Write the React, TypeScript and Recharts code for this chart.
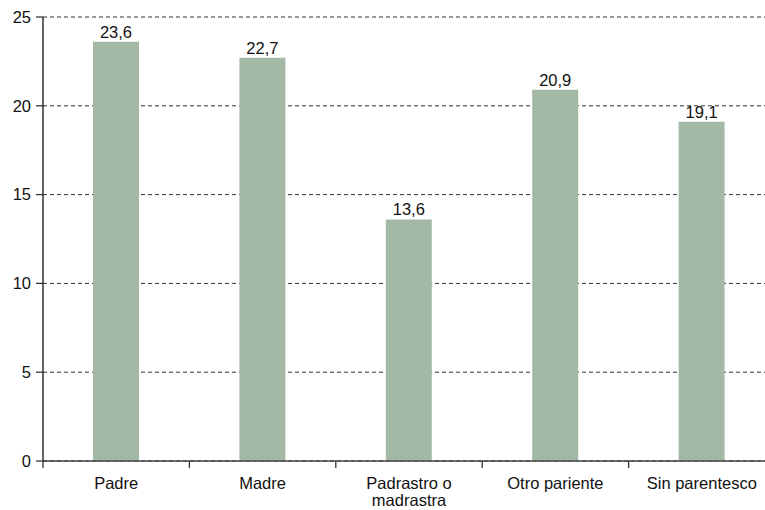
import { BarChart, Bar, XAxis, YAxis, CartesianGrid, LabelList } from "recharts";

const categories = ["Padre", "Madre", "Padrastro o madrastra", "Otro pariente", "Sin parentesco"];
const values = [23.6, 22.7, 13.6, 20.9, 19.1];
const yTicks = [0, 5, 10, 15, 20, 25];

// multi-line labels for the longer category names
const tickLines: Record<string, string[]> = {
  "Padrastro o madrastra": ["Padrastro o", "madrastra"],
};

const data = categories.map((name, i) => ({ name, value: values[i] }));

const CHART_W = 775;
const CHART_H = 510;
const Y_AXIS_W = 43;
const FONT = "Liberation Sans, Arial, sans-serif";
const FS = 16.5;

const bandWidth = (CHART_W - Y_AXIS_W) / categories.length;

function CategoryTick(props: any) {
  const { x, y, payload } = props;
  const lines = tickLines[payload.value] ?? [payload.value];
  const left = x - bandWidth / 2;
  return (
    <g>
      <line x1={left} y1={y - 8} x2={left} y2={y - 1} stroke="#333" strokeWidth={1.3} />
      <text x={x} y={y + 20} textAnchor="middle" fontSize={FS} fill="#111" fontFamily={FONT}>
        {lines.map((l: string, i: number) => (
          <tspan key={i} x={x} dy={i === 0 ? 0 : 17}>
            {l}
          </tspan>
        ))}
      </text>
    </g>
  );
}

const fmt = (v: any) => String(v).replace(".", ",");

export default function App() {
  return (
    <div
      style={{
        position: "absolute",
        left: 0,
        top: 0,
        width: 765,
        height: 510,
        overflow: "hidden",
        background: "#fff",
      }}
    >
      <BarChart
        width={CHART_W}
        height={CHART_H}
        data={data}
        margin={{ top: 17, right: 0, left: 0, bottom: 0 }}
      >
        <CartesianGrid vertical={false} stroke="#333" strokeDasharray="4 3" />
        <XAxis
          dataKey="name"
          height={49}
          interval={0}
          tickLine={false}
          tick={<CategoryTick />}
          axisLine={{ stroke: "#444", strokeWidth: 1.3 }}
        />
        <YAxis
          width={Y_AXIS_W}
          domain={[0, 25]}
          ticks={yTicks}
          interval={0}
          tickSize={7}
          tickMargin={5}
          axisLine={{ stroke: "#111", strokeWidth: 1.3 }}
          tickLine={{ stroke: "#333", strokeWidth: 1.3 }}
          tick={{ fontSize: FS, fill: "#111", fontFamily: FONT }}
        />
        <Bar dataKey="value" fill="#a3b9a5" barSize={46} isAnimationActive={false}>
          <LabelList
            dataKey="value"
            position="top"
            offset={4}
            formatter={fmt}
            style={{ fontSize: FS, fill: "#111", fontFamily: FONT }}
          />
        </Bar>
      </BarChart>
    </div>
  );
}
